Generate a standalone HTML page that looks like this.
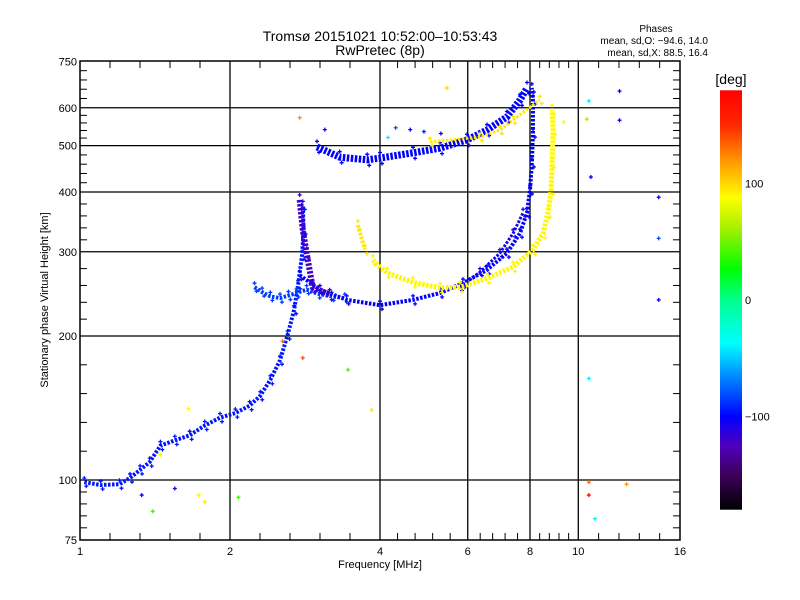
<!DOCTYPE html>
<html><head><meta charset="utf-8">
<style>
html,body{margin:0;padding:0;background:#fff;}
svg{display:block;font-family:"Liberation Sans",sans-serif;}
text{fill:#000;}
</style></head>
<body>
<svg id="chart" width="800" height="600" viewBox="0 0 800 600">
  <text x="380" y="41" font-size="14" text-anchor="middle">Tromsø 20151021 10:52:00–10:53:43</text>
  <text x="380" y="55" font-size="14" text-anchor="middle">RwPretec (8p)</text>
  <text x="656" y="32" font-size="10" text-anchor="middle">Phases</text>
  <text x="708" y="44" font-size="10" text-anchor="end">mean, sd,O: −94.6, 14.0</text>
  <text x="708" y="56" font-size="10" text-anchor="end">mean, sd,X:  88.5, 16.4</text>
  <g id="grid"></g>
  <g id="marks"></g>
  <g id="axes"></g>
  <text x="380" y="568" font-size="11" text-anchor="middle">Frequency [MHz]</text>
  <text transform="translate(48,300) rotate(-90)" font-size="11" text-anchor="middle">Stationary phase Virtual Height [km]</text>
  <g id="colorbar"></g>
</svg>
<script>
// ---- data ----
const xTicks = [1, 2, 4, 6, 8, 10, 16];
const xTickLabels = ["1", "2", "4", "6", "8", "10", "16"];
const yTicks = [75, 100, 200, 300, 400, 500, 600, 750];
const yTickLabels = ["75", "100", "200", "300", "400", "500", "600", "750"];
const cbTicks = [100, 0, -100];
const cbTickLabels = ["100", "0", "−100"];

// traces: [freq MHz, height km]
const traceEO = [[1.02,99],[1.10,97.6],[1.2,98],[1.26,101],[1.32,105],[1.38,109],[1.45,118],[1.55,121],[1.66,124],[1.78,130],[1.91,135],[2.05,138],[2.19,143],[2.3,150],[2.41,162],[2.52,178],[2.61,201],[2.69,227],[2.74,256],[2.79,295],[2.81,333],[2.8,375]];
const phaseEO = -95;
const traceSpread = [[2.24,253],[2.32,247],[2.41,242],[2.52,240],[2.62,243],[2.72,246],[2.85,250],[3.0,245],[3.2,242],[3.4,240]];
const phaseSpread = -85;
const traceFO = [[2.76,268],[3.03,250],[3.43,238],[4.0,232],[4.66,238],[5.28,246],[5.87,258],[6.56,275],[7.19,298],[7.64,328],[7.89,362],[8.0,404],[8.07,460],[8.11,531],[8.11,623],[8.07,660]];
const phaseFO = -100;
const traceFO2 = [[5.79,253],[6.35,272],[6.96,298],[7.4,328],[7.75,362]];
const phaseFO2 = -105;
const traceFX = [[3.87,288],[4.13,271],[4.66,259],[5.28,252],[5.79,253],[6.56,264],[7.4,279],[8.11,303],[8.5,328],[8.69,362],[8.82,404],[8.86,460],[8.9,539],[8.86,594]];
const phaseFX = 90;
const traceFXtop = [[3.61,341],[3.73,303]];
const phaseFXtop = 95;
const traceUpO = [[2.99,497],[3.32,473],[3.77,467],[4.0,471],[4.66,483],[5.28,494],[5.98,514],[6.56,539],[7.19,574],[7.64,623],[7.89,660]];
const phaseUpO = -100;
const traceUpX = [[5.04,509],[6.35,521],[6.96,539],[7.4,566],[8.37,623]];
const phaseUpX = 95;
const traceSpur = [[2.76,385],[2.8,333],[2.85,298],[2.93,253],[3.17,244]];
const phaseSpur = -120;
// isolated echoes: [freq, height, phase]
const outliers = [[2.76,572,120],[5.45,660,100],[3.85,140,95],[3.45,170,40],[10.5,620,-40],[12.1,650,-100],[12.1,565,-100],[10.6,430,-100],[14.5,390,-100],[14.5,320,-80],[14.5,238,-100],[10.5,163,-40],[10.5,99,130],[10.5,93,170],[10.8,83,-40],[12.5,98,120],[1.33,93,-100],[1.4,86,40],[1.55,96,-110],[1.73,93,90],[1.78,90,95],[2.08,92,40],[2.8,180,140],[2.55,195,130],[1.65,141,90],[1.45,113,80],[9.35,560,90],[10.4,568,60],[4.3,545,-80],[4.6,540,-100],[4.9,535,-90],[5.3,530,-100],[4.15,520,-40],[3.1,540,-100]];

// ---- styles (separate from data) ----
const bandWidth = {EO:4, Spread:4, FO:4, FO2:3, FX:5, FXtop:4, UpO:7, UpX:3, Spur:6};

// ---- scales ----
const X0 = 80, X1 = 680, Y0 = 61, Y1 = 540;
function xs(f){ return X0 + Math.log2(f) * 150; }
function ys(h){ return 480 - Math.log2(h/100) * 144; }
function cbY(v){ return 300 - v * 1.165; }

const stops = [[-180,[0,0,0]],[-150,[60,0,90]],[-125,[80,0,190]],[-100,[0,0,255]],[-65,[0,140,255]],[-37,[0,255,255]],[0,[0,255,140]],[27,[0,255,0]],[60,[160,240,0]],[88,[255,255,0]],[120,[255,150,0]],[150,[255,40,0]],[180,[255,0,0]]];
function cmap(v){
  for(let i=0;i<stops.length-1;i++){
    const a=stops[i], b=stops[i+1];
    if(v<=b[0]){ const t=Math.max(0,(v-a[0])/(b[0]-a[0]));
      const c=a[1].map((x,k)=>Math.round(x+(b[1][k]-x)*t)); return `rgb(${c[0]},${c[1]},${c[2]})`; }
  }
  return 'rgb(255,0,0)';
}

const NS = 'http://www.w3.org/2000/svg';
function mk(tag, attrs, parent){ const e=document.createElementNS(NS,tag); for(const k in attrs) e.setAttribute(k,attrs[k]); parent.appendChild(e); return e; }

// ---- grid & axes ----
const grid = document.getElementById('grid');
const axes = document.getElementById('axes');
[2,4,6,8,10].forEach(f=>{
  const l = mk('line',{x1:xs(f),x2:xs(f),y1:Y0,y2:Y1,stroke:'#000','stroke-width':1.3},grid);
  
  
});
[100,200,300,400,500,600].forEach(h=>{
  const l = mk('line',{x1:X0,x2:X1,y1:ys(h),y2:ys(h),stroke:'#000','stroke-width':1.3},grid);
  
  
});
const frame = mk('rect',{x:X0,y:Y0,width:X1-X0,height:Y1-Y0,fill:'none',stroke:'#000','stroke-width':1.5},axes);


for(let i=0;i<xTicks.length-1;i++){
  const a=Math.log2(xTicks[i]), b=Math.log2(xTicks[i+1]);
  for(let k=1;k<5;k++){ const x=xs(Math.pow(2,a+(b-a)*k/5));
    const t1 = mk('line',{x1:x,x2:x,y1:Y1,y2:Y1-7,stroke:'#000','stroke-width':1},axes);
    
    
    const t2 = mk('line',{x1:x,x2:x,y1:Y0,y2:Y0+7,stroke:'#000','stroke-width':1},axes);
    
    
  }
}
for(let i=0;i<yTicks.length-1;i++){
  const a=Math.log2(yTicks[i]), b=Math.log2(yTicks[i+1]);
  for(let k=1;k<5;k++){ const y=ys(Math.pow(2,a+(b-a)*k/5));
    const t1 = mk('line',{x1:X0,x2:X0+7,y1:y,y2:y,stroke:'#000','stroke-width':1},axes);
    
    
    const t2 = mk('line',{x1:X1,x2:X1-7,y1:y,y2:y,stroke:'#000','stroke-width':1},axes);
    
    
  }
}
xTicks.forEach((f,i)=>{
  const t = mk('text',{x:xs(f),y:555,'font-size':11,'text-anchor':'middle'},axes);
  t.textContent = xTickLabels[i];
  
  
});
yTicks.forEach((h,i)=>{
  const t = mk('text',{x:X0-3,y:ys(h)+4,'font-size':11,'text-anchor':'end'},axes);
  t.textContent = yTickLabels[i];
  
  
});

// ---- traces ----
const marks = document.getElementById('marks');
function plus(x,y,col,name){
  const p = mk('path',{d:`M${x-2},${y}h4M${x},${y-2}v4`,stroke:col,'stroke-width':1.3,fill:'none'},marks);
  
  
}
function drawTrace(pts, phase, key){
  const col = cmap(phase);
  const pl = mk('polyline',{points:pts.map(p=>xs(p[0])+','+ys(p[1])).join(' '),fill:'none',stroke:col,'stroke-width':bandWidth[key],'stroke-linejoin':'round','stroke-dasharray':'2.5 1.5'},marks);
  
  
  pts.forEach(p=>{
    plus(xs(p[0]),ys(p[1])-bandWidth[key]/2-2,col,'echo-point');
    plus(xs(p[0])+2,ys(p[1])+bandWidth[key]/2+2,col,'echo-point');
  });
}
drawTrace(traceEO, phaseEO, 'EO');
drawTrace(traceSpread, phaseSpread, 'Spread');
drawTrace(traceFO, phaseFO, 'FO');
drawTrace(traceFO2, phaseFO2, 'FO2');
drawTrace(traceFX, phaseFX, 'FX');
drawTrace(traceFXtop, phaseFXtop, 'FXtop');
drawTrace(traceUpO, phaseUpO, 'UpO');
drawTrace(traceUpX, phaseUpX, 'UpX');
drawTrace(traceSpur, phaseSpur, 'Spur');
outliers.forEach(o=>plus(xs(o[0]),ys(o[1]),cmap(o[2]),'outlier-echo'));

// ---- colorbar ----
const cb = document.getElementById('colorbar');
const defs = mk('defs',{},cb);
const grad = mk('linearGradient',{id:'cbg',x1:0,y1:0,x2:0,y2:1},defs);
stops.slice().reverse().forEach(s=>{
  mk('stop',{offset:((cbY(s[0])-cbY(180))/(cbY(-180)-cbY(180))).toFixed(3),'stop-color':cmap(s[0])},grad);
});
const bar = mk('rect',{x:720,y:cbY(180),width:22,height:cbY(-180)-cbY(180),fill:'url(#cbg)'},cb);


const unit = mk('text',{x:731,y:84,'font-size':14,'text-anchor':'middle'},cb);
unit.textContent = '[deg]';


cbTicks.forEach((v,i)=>{
  const t = mk('text',{x:745,y:cbY(v)+4,'font-size':11},cb);
  t.textContent = cbTickLabels[i];
  
  
});
</script>
</body></html>
